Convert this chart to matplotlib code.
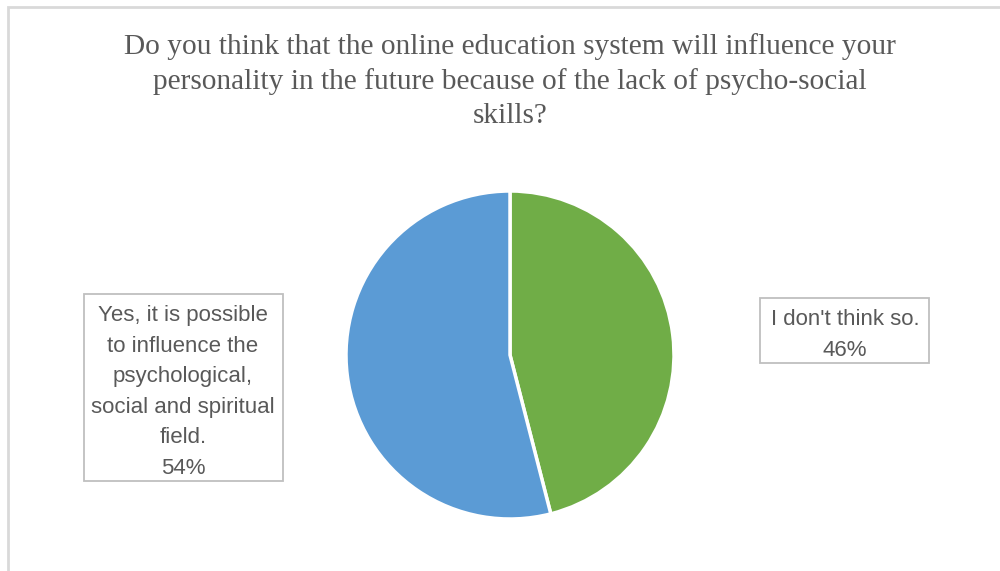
import matplotlib.pyplot as plt
from matplotlib.patches import Rectangle

# survey answers (clockwise from 12 o'clock)
labels = ["I don't think so.",
          "Yes, it is possible\nto influence the\npsychological,\nsocial and spiritual\nfield."]
shares = [46, 54]
colors = ["#70AD47", "#5B9BD5"]

title = ("Do you think that the online education system will influence your\n"
         "personality in the future because of the lack of psycho-social\n"
         "skills?")

W, H = 1000, 571
fig = plt.figure(figsize=(W / 100, H / 100), dpi=100)
fig.patch.set_facecolor("white")


def px_rect(x0, y0, x1, y1, **kw):
    # rectangle given in pixel coords from the top-left corner
    fig.patches.append(Rectangle((x0 / W, 1 - y1 / H), (x1 - x0) / W,
                                 (y1 - y0) / H, transform=fig.transFigure,
                                 **kw))


# chart area frame
px_rect(8, 7, 1100, 700, fill=False, edgecolor="#D9D9D9", linewidth=2)

fig.text(510 / W, 1 - 81 / H, title, ha="center", va="center",
         fontsize=21.2, family="Liberation Serif", color="#595959",
         linespacing=1.38)

# pie centred at (510, 355) px
r = 165
ax = fig.add_axes([(510 - r) / W, (H - 355 - r) / H, 2 * r / W, 2 * r / H])
wedges, _ = ax.pie(shares, colors=colors, startangle=90, counterclock=False,
                   radius=164 / 165,
                   wedgeprops=dict(edgecolor="white", linewidth=2.5))
ax.set_xlim(-1, 1)
ax.set_ylim(-1, 1)
ax.set_aspect("equal")
ax.axis("off")

# data label boxes
box_kw = dict(facecolor="white", edgecolor="#BFBFBF", linewidth=1.3)
px_rect(760, 298, 929, 363, **box_kw)
px_rect(84, 294, 283, 481, **box_kw)

txt_kw = dict(ha="center", va="center", fontsize=16, family="Liberation Sans",
              color="#595959", linespacing=1.6)
fig.text(845 / W, 1 - 335 / H, f"{labels[0]}\n{shares[0]}%", **txt_kw)
fig.text(183 / W, 1 - 392 / H, f"{labels[1]}\n{shares[1]}%", **txt_kw)

fig.savefig("out.png", dpi=100)
